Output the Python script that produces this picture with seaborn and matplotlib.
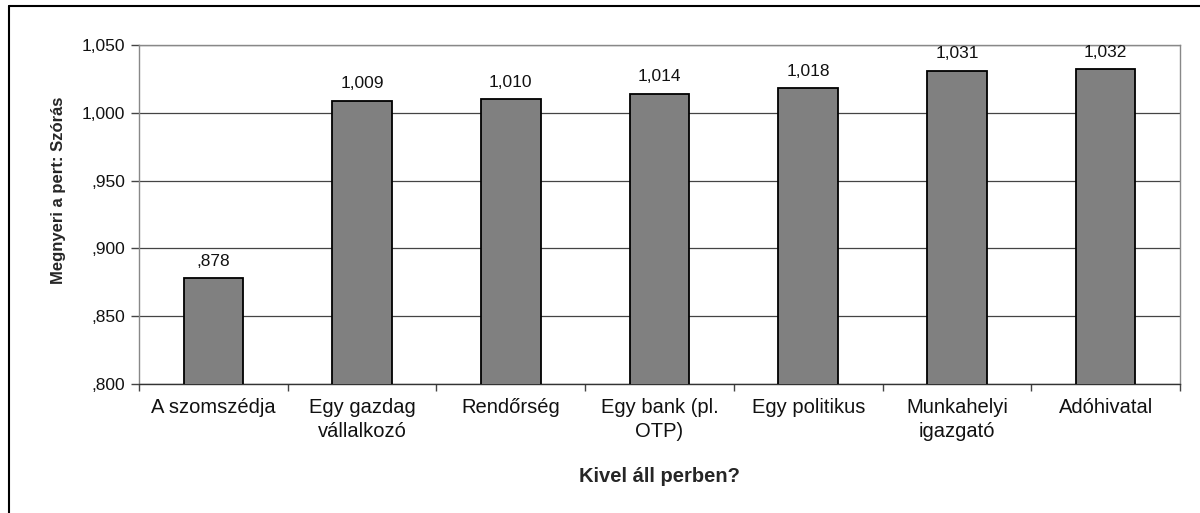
import matplotlib
matplotlib.use("Agg")
import matplotlib.pyplot as plt
import seaborn as sns
import pandas as pd
from matplotlib.lines import Line2D
from matplotlib.ticker import FuncFormatter

# Data
categories = ["A szomszédja", "Egy gazdag\nvállalkozó", "Rendőrség", "Egy bank (pl.\nOTP)",
              "Egy politikus", "Munkahelyi\nigazgató", "Adóhivatal"]
values = [0.878, 1.009, 1.010, 1.014, 1.018, 1.031, 1.032]
y_ticks = [0.800, 0.850, 0.900, 0.950, 1.000, 1.050]


def hu_fmt(v, pos=None):
    # 0.878 -> ",878", 1.009 -> "1,009"
    s = f"{v:.3f}".replace(".", ",")
    if s.startswith("0"):
        s = s[1:]
    return s


sns.set_theme(style="white")
plt.rcParams['font.family'] = ['Liberation Sans', 'DejaVu Sans']

df = pd.DataFrame({"cat": categories, "val": values})

fig = plt.figure(figsize=(12, 5.13), dpi=100)
ax = fig.add_axes([139 / 1200, 1 - 384 / 513, (1180 - 139) / 1200, (384 - 45) / 513])

sns.barplot(data=df, x="cat", y="val", color="#808080", width=0.4,
            edgecolor="black", linewidth=1.3, saturation=1, ax=ax, zorder=3)

ax.set_ylim(0.800, 1.050)
ax.set_xlim(-0.5, len(categories) - 0.5)
ax.set_yticks(y_ticks)
ax.yaxis.set_major_formatter(FuncFormatter(hu_fmt))
ax.yaxis.grid(True, color="#444444", linewidth=0.9, zorder=0)
ax.set_axisbelow(True)

# x ticks at category boundaries, labels centred on bars
ax.set_xticks([i - 0.5 for i in range(len(categories) + 1)], minor=False)
ax.set_xticklabels([""] * (len(categories) + 1))
ax.set_xticks(range(len(categories)), minor=True)
ax.set_xticklabels(categories, minor=True, fontsize=14.5, color="#111111", linespacing=1.35)
ax.tick_params(axis="x", which="minor", length=0, pad=10)
ax.tick_params(axis="x", which="major", length=5, width=1, color="#444444", direction="out", bottom=True)
ax.tick_params(axis="y", length=6, width=1, color="#444444", direction="out", left=True,
               labelsize=12.5, pad=4, labelcolor="#111111")

for s in ["left", "bottom", "right", "top"]:
    ax.spines[s].set_color("#888888")
    ax.spines[s].set_linewidth(1)
ax.spines["bottom"].set_color("#333333")

for i, v in enumerate(values):
    ax.text(i, v + 0.007, hu_fmt(v), ha="center", va="bottom", fontsize=12.5, color="#111111")

ax.set_xlabel("Kivel áll perben?", fontsize=14.5, fontweight="bold")
ax.xaxis.set_label_coords(0.5, -0.245)
ax.set_ylabel("Megnyeri a pert: Szórás", fontsize=12, fontweight="bold")
ax.yaxis.set_label_coords(-0.07, 0.57)

# outer frame lines (left and top)
fig.add_artist(Line2D([9 / 1200, 9 / 1200], [0, 1 - 6 / 513], color="black", linewidth=1.5,
                      transform=fig.transFigure))
fig.add_artist(Line2D([9 / 1200, 1], [1 - 6 / 513, 1 - 6 / 513], color="black", linewidth=1.5,
                      transform=fig.transFigure))

fig.savefig("out.png", dpi=100, facecolor="white")
